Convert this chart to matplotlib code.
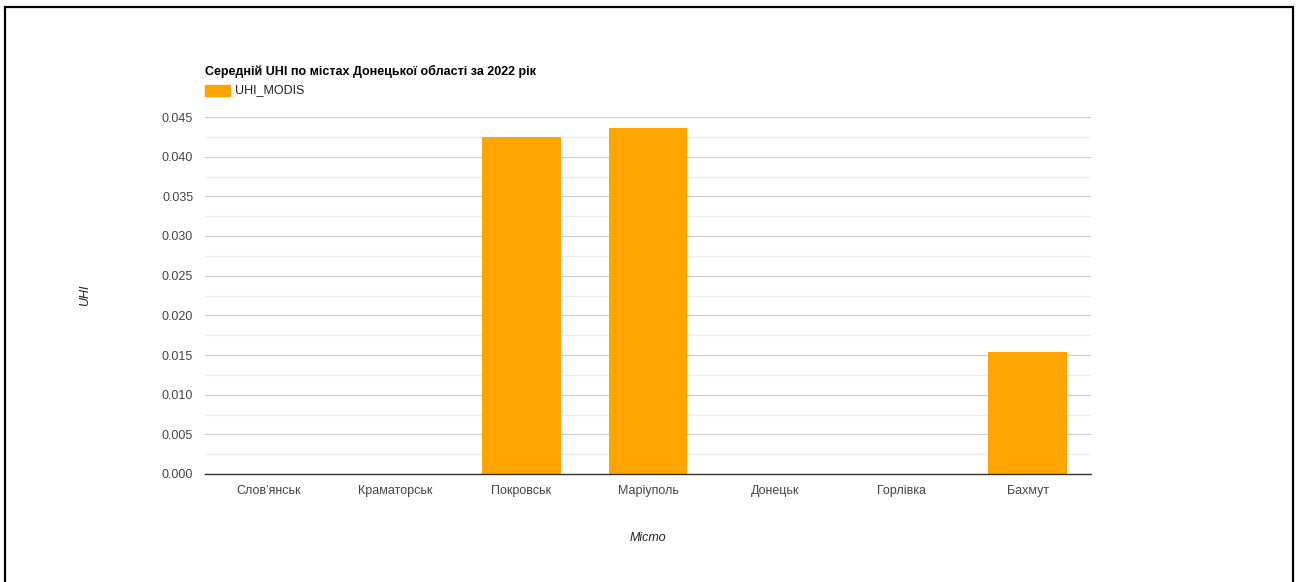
import matplotlib.pyplot as plt
from matplotlib.patches import Rectangle
from matplotlib.ticker import MultipleLocator

plt.rcParams['font.family'] = ['Liberation Sans', 'DejaVu Sans']

cities = ['Слов’янськ', 'Краматорськ', 'Покровськ', 'Маріуполь', 'Донецьк', 'Горлівка', 'Бахмут']
uhi_modis = [0.0, 0.0, 0.04248, 0.04361, 0.0, 0.0, 0.01538]
bar_color = '#ffa500'

W, H = 1300, 582
fig = plt.figure(figsize=(W / 100, H / 100), dpi=100)
ax = fig.add_axes([205 / W, 1 - 474 / H, (1091 - 205) / W, (474 - 117) / H])

x = range(len(cities))
ax.bar(x, uhi_modis, width=0.62, color=bar_color, zorder=3)

ax.set_xlim(-0.5, len(cities) - 0.5)
ax.set_ylim(0, 0.045)
ax.yaxis.set_major_locator(MultipleLocator(0.005))
ax.yaxis.set_minor_locator(MultipleLocator(0.0025))
ax.yaxis.set_major_formatter(plt.FuncFormatter(lambda v, p: f'{v:.3f}'))
ax.grid(axis='y', which='major', color='#cccccc', lw=0.8, zorder=0)
ax.grid(axis='y', which='minor', color='#ebebeb', lw=0.8, zorder=0)

ax.set_xticks(list(x))
ax.set_xticklabels(cities)
ax.tick_params(axis='both', which='both', length=0, labelsize=9, colors='#444444')
ax.tick_params(axis='y', pad=8.5)
ax.tick_params(axis='x', pad=8)

for s in ['top', 'right', 'left']:
    ax.spines[s].set_visible(False)
ax.spines['bottom'].set_color('#333333')
ax.spines['bottom'].set_linewidth(1)
ax.spines['bottom'].set_zorder(4)

fig.text(85 / W, 1 - 295 / H, 'UHI', rotation=90, style='italic', fontsize=9,
         color='#222222', ha='center', va='center')
fig.text(648 / W, 1 - 538 / H, 'Місто', style='italic', fontsize=9,
         color='#222222', ha='center', va='center')

fig.text(205 / W, 1 - 71 / H, 'Середній UHI по містах Донецької області за 2022 рік',
         fontsize=9, fontweight='bold', color='#000000', ha='left', va='center')
fig.patches.append(Rectangle((205 / W, 1 - 96 / H), 25 / W, 11 / H,
                             transform=fig.transFigure, color=bar_color))
fig.text(235 / W, 1 - 90 / H, 'UHI_MODIS', fontsize=9, color='#222222',
         ha='left', va='center')

# frame round the whole figure
fig.patches.append(Rectangle((5 / W, -0.02), 1288 / W, 1.02 - 7 / H,
                             transform=fig.transFigure, fill=False,
                             edgecolor='black', lw=1.6))

fig.savefig('out.png', dpi=100)
